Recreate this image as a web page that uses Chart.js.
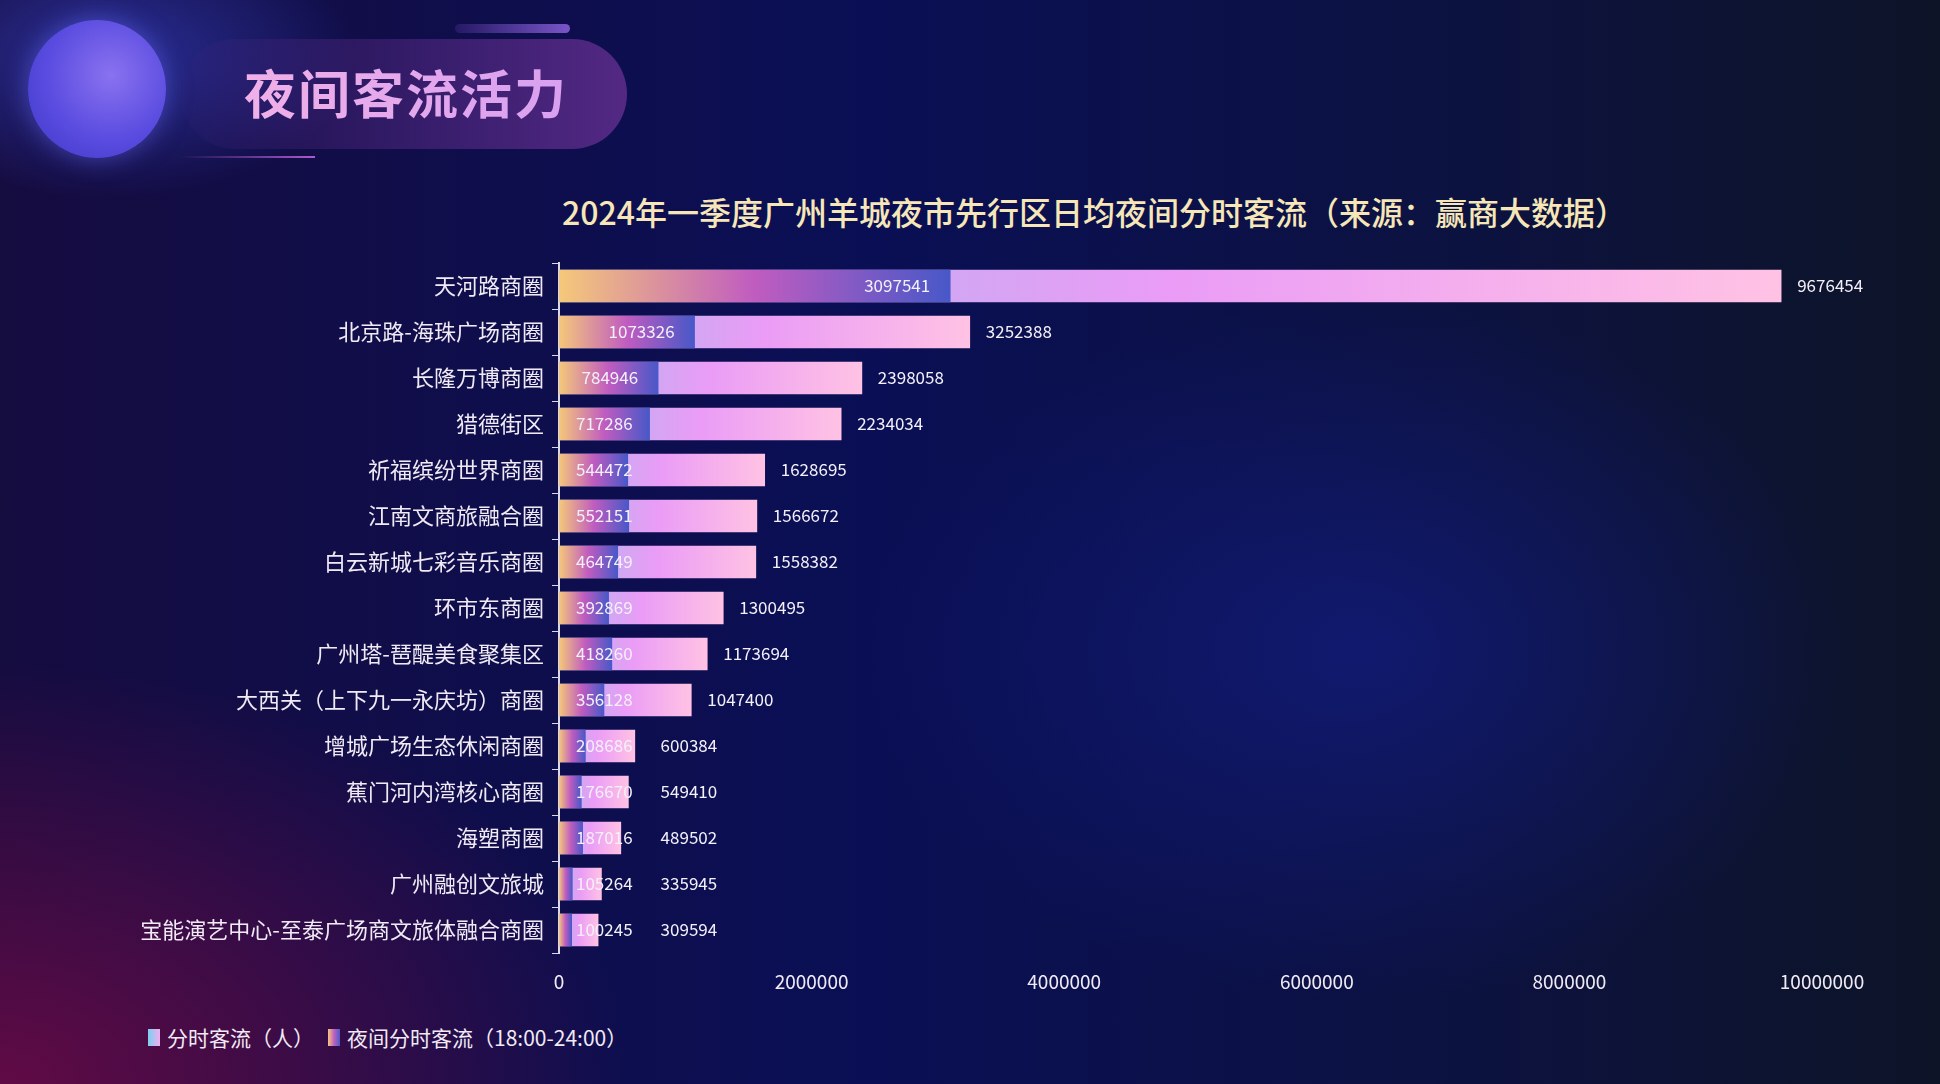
<!DOCTYPE html>
<html>
<head>
<meta charset="utf-8">
<script src="https://cdn.jsdelivr.net/npm/chart.js@4.4.1/dist/chart.umd.min.js"></script>
<style>
  html, body { margin: 0; padding: 0; width: 1940px; height: 1084px; overflow: hidden; }
  body {
    font-family: "Noto Sans CJK SC", "Noto Sans", sans-serif;
    background:
      radial-gradient(ellipse 900px 600px at 0% 100%, rgba(110,10,70,0.85), rgba(110,10,70,0) 70%),
      radial-gradient(ellipse 700px 500px at 70% 60%, rgba(20,30,140,0.6), rgba(20,30,140,0) 70%),
      linear-gradient(90deg, #150c40 0%, #0a0f55 45%, #0c1240 75%, #0d1428 100%);
    position: relative;
  }
  #glow { position: absolute; left: -60px; top: -40px; width: 420px; height: 240px;
    background: radial-gradient(ellipse at 40% 40%, rgba(70,90,255,0.45), rgba(70,90,255,0) 70%); }
  #circle { position: absolute; left: 28px; top: 20px; width: 138px; height: 138px; border-radius: 50%;
    background: radial-gradient(circle at 60% 40%, #8a72f0, #5a4ce0 55%, #3b36c4 100%);
    box-shadow: 0 0 24px rgba(110,110,255,0.5); }
  #pill { position: absolute; left: 180px; top: 39px; width: 447px; height: 110px; border-radius: 55px;
    background: linear-gradient(90deg, rgba(60,30,120,0.1), rgba(95,45,140,0.85)); }
  #pill-bar { position: absolute; left: 455px; top: 24px; width: 115px; height: 9px; border-radius: 5px;
    background: linear-gradient(90deg, rgba(120,70,200,0.2), #7a55c8); }
  #pill-line { position: absolute; left: 180px; top: 156px; width: 135px; height: 2px;
    background: linear-gradient(90deg, rgba(170,80,200,0), #b058d0); }
  #header { position: absolute; left: 244px; top: 54px; font-size: 52px; font-weight: bold; letter-spacing: 2px;
    background: linear-gradient(90deg, #f0b0e8, #d8a0f0); -webkit-background-clip: text; background-clip: text; color: transparent; }
  #title { position: absolute; left: 562px; top: 188px; font-size: 32px; font-weight: 500;
    color: #f6e6b8; white-space: nowrap; }
  #legend { position: absolute; left: 148px; top: 1022px; font-size: 21px; color: #f0eaf5; display: flex; align-items: center; }
  #legend .box { display: inline-block; width: 12px; height: 17px; margin-right: 7px; }
  #legend .item { display: flex; align-items: center; margin-right: 14px; }
  canvas { position: absolute; left: 0; top: 0; }
</style>
</head>
<body>
<div id="glow"></div>
<div id="pill-bar"></div>
<div id="pill"></div>
<div id="pill-line"></div>
<div id="circle"></div>
<div id="header">夜间客流活力</div>
<div id="title">2024年一季度广州羊城夜市先行区日均夜间分时客流（来源：赢商大数据）</div>
<div id="legend">
  <div class="item"><span class="box" style="background:linear-gradient(90deg,#7ad0f0,#f0b0f0)"></span>分时客流（人）</div>
  <div class="item"><span class="box" style="background:linear-gradient(90deg,#f5c87a,#c060c0,#4a5cc8)"></span>夜间分时客流（18:00-24:00）</div>
</div>
<canvas id="c" width="1940" height="1084"></canvas>
<script>
const categories = ['天河路商圈', '北京路-海珠广场商圈', '长隆万博商圈', '猎德街区', '祈福缤纷世界商圈',
  '江南文商旅融合圈', '白云新城七彩音乐商圈', '环市东商圈', '广州塔-琶醍美食聚集区', '大西关（上下九一永庆坊）商圈',
  '增城广场生态休闲商圈', '蕉门河内湾核心商圈', '海塑商圈', '广州融创文旅城', '宝能演艺中心-至泰广场商文旅体融合商圈'];
const totalFlow = [9676454, 3252388, 2398058, 2234034, 1628695, 1566672, 1558382, 1300495, 1173694, 1047400,
  600384, 549410, 489502, 335945, 309594];
const nightFlow = [3097541, 1073326, 784946, 717286, 544472, 552151, 464749, 392869, 418260, 356128,
  208686, 176670, 187016, 105264, 100245];
const xTicks = [0, 2000000, 4000000, 6000000, 8000000, 10000000];

function barGradient(ctx, stops) {
  const chart = ctx.chart;
  const area = chart.chartArea;
  if (!area) return stops[0][1];
  const xs = chart.scales.x;
  const v = ctx.raw || 0;
  const x0 = xs.getPixelForValue(0), x1 = xs.getPixelForValue(v);
  const g = chart.ctx.createLinearGradient(x0, 0, Math.max(x1, x0 + 1), 0);
  stops.forEach(s => g.addColorStop(s[0], s[1]));
  return g;
}

const valueLabels = {
  id: 'valueLabels',
  afterDatasetsDraw(chart) {
    const c = chart.ctx;
    c.save();
    c.font = '17px "Noto Sans CJK SC", sans-serif';
    c.fillStyle = '#f4f0fa';
    c.textBaseline = 'middle';
    c.textAlign = 'left';
    const smallEnds = [];
    chart.getDatasetMeta(1).data.forEach((bar, i) => {
      const w = c.measureText(String(nightFlow[i])).width;
      const x = Math.max(bar.x - w - 20, bar.base + 17);
      c.fillText(nightFlow[i], x, bar.y);
      smallEnds[i] = x + w;
    });
    chart.getDatasetMeta(0).data.forEach((bar, i) => {
      const x = Math.max(bar.x + 16, smallEnds[i] + 28);
      c.fillText(totalFlow[i], x, bar.y);
    });
    c.restore();
  }
};

new Chart(document.getElementById('c'), {
  type: 'bar',
  data: {
    labels: categories,
    datasets: [
      {
        label: '分时客流（人）',
        data: totalFlow,
        backgroundColor: ctx => barGradient(ctx, [[0, '#a8b8ec'], [0.5, '#ea9cf6'], [1, '#ffc2e4']]),
        barThickness: 32,
        grouped: false,
        order: 2,
      },
      {
        label: '夜间分时客流（18:00-24:00）',
        data: nightFlow,
        backgroundColor: ctx => barGradient(ctx, [[0, '#f5c87a'], [0.5, '#c05cc0'], [1, '#4858c8']]),
        barThickness: 32,
        grouped: false,
        order: 1,
      },
    ],
  },
  options: {
    indexAxis: 'y',
    responsive: false,
    animation: false,
    layout: { padding: { top: 263, right: 118, left: 0, bottom: 0 } },
    plugins: { legend: { display: false }, tooltip: { enabled: false } },
    scales: {
      x: {
        min: 0, max: 10000000,
        afterBuildTicks: s => { s.ticks = xTicks.map(v => ({ value: v })); },
        afterFit: s => { s.height = 131; },
        grid: { display: false },
        border: { display: false },
        ticks: { color: '#f0eaf5', padding: 9, callback: v => String(v),
          font: { size: 19, family: '"Noto Sans CJK SC", sans-serif' } },
      },
      y: {
        afterFit: s => { s.width = 559; },
        grid: { drawOnChartArea: false, color: '#d8d8e8', tickLength: 7, offset: true },
        border: { color: '#d8d8e8', width: 2 },
        ticks: { color: '#f0eaf5', padding: 8, font: { size: 22, family: '"Noto Sans CJK SC", sans-serif' } },
      },
    },
  },
  plugins: [valueLabels],
});
</script>
</body>
</html>
